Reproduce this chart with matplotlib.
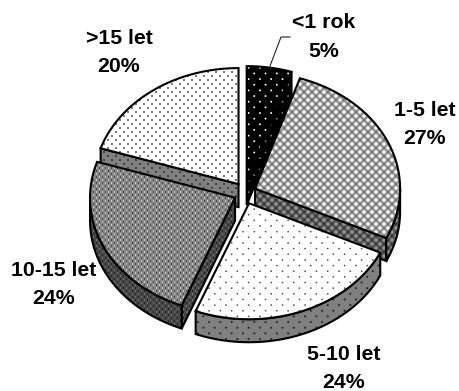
import numpy as np
import matplotlib
matplotlib.use('Agg')
import matplotlib.pyplot as plt
from matplotlib.patches import Polygon

# share of respondents by length of service
categories = ['<1 rok', '1-5 let', '5-10 let', '10-15 let', '>15 let']
shares = [5, 27, 24, 24, 20]

WIDTH, HEIGHT = 459, 391
CENTER = (245, 193)
RX, RY = 145, 116
DEPTH = 23
EXPLODE = 11

# dot layers: (period, radius, x offset, background, dot colour)
top_fill = {
    '<1 rok': [(11.3, 0.9, 0, 0.0, 1.0)],
    '1-5 let': [(8, 1.6, 0, 0.6, 1.0), (8, 0.8, 4, 0.6, 0.3)],
    '5-10 let': [(11.3, 0.8, 0, 1.0, 0.3)],
    '10-15 let': [(6, 0.6, 0.5, 0.52, 0.95), (6, 0.6, 3.5, 0.52, 0.15)],
    '>15 let': [(8, 0.9, 0, 1.0, 0.25)],
}
wall_fill = {
    '<1 rok': [(11.3, 0.9, 0, 0.0, 0.5)],
    '1-5 let': [(8, 1.6, 0, 0.33, 0.6), (8, 0.8, 4, 0.33, 0.1)],
    '5-10 let': [(11.3, 1.0, 0, 0.5, 0.15)],
    '10-15 let': [(6, 0.6, 0.5, 0.28, 0.55), (6, 0.6, 3.5, 0.28, 0.05)],
    '>15 let': [(8, 0.9, 0, 0.5, 0.15)],
}
label_pos = {
    '<1 rok': (324, 23),
    '1-5 let': (425, 110),
    '5-10 let': (344, 354),
    '10-15 let': (54, 270),
    '>15 let': (119, 38),
}
LINE_GAP = 28.5
# back slices first so the front ones overlap them
draw_order = ['<1 rok', '>15 let', '1-5 let', '10-15 let', '5-10 let']


def pattern(layers):
    yy, xx = np.mgrid[0:HEIGHT, 0:WIDTH] + 0.5
    img = np.full((HEIGHT, WIDTH), float(layers[0][3]))
    for period, radius, offset, _, colour in layers:
        cover = np.zeros_like(img)
        # two shifted square lattices make the staggered dot rows
        for sx, sy in [(0, 0), (period / 2, period / 2)]:
            dx = (xx - offset - sx + period / 2) % period - period / 2
            dy = (yy - sy + period / 2) % period - period / 2
            cover = np.maximum(cover, np.clip(radius + 0.5 - np.hypot(dx, dy), 0, 1))
        img = img + (colour - img) * cover
    return img


def rim(cx, cy, angles):
    t = np.radians(angles)
    return np.column_stack([cx + RX * np.sin(t), cy - RY * np.cos(t)])


def fill(ax, points, layers):
    poly = Polygon(points, closed=True, facecolor='none', edgecolor='black',
                   linewidth=1.5, joinstyle='miter', zorder=fill.z + 1)
    ax.add_patch(poly)
    im = ax.imshow(pattern(layers), cmap='gray', vmin=0, vmax=1, extent=(0, WIDTH, HEIGHT, 0),
                   interpolation='nearest', aspect='auto', zorder=fill.z)
    im.set_clip_path(poly)
    fill.z += 2


fill.z = 1

fig = plt.figure(figsize=(WIDTH / 100, HEIGHT / 100), dpi=100)
ax = fig.add_axes([0, 0, 1, 1])

bounds = np.cumsum([0] + shares) / sum(shares) * 360
spans = {c: (bounds[i], bounds[i + 1]) for i, c in enumerate(categories)}

for name in draw_order:
    start, end = spans[name]
    mid = np.radians((start + end) / 2)
    cx = CENTER[0] + EXPLODE * np.sin(mid)
    cy = CENTER[1] - EXPLODE * np.cos(mid)
    apex = np.array([[cx, cy]])
    drop = np.array([0, DEPTH])
    arc = rim(cx, cy, np.linspace(start, end, 80))

    # side faces that turn towards the viewer
    if np.sin(np.radians(end)) > 0:
        face = np.vstack([apex, arc[-1:]])
        fill(ax, np.vstack([face, face[::-1] + drop]), wall_fill[name])
    if np.sin(np.radians(start)) < -1e-6 or start == 0:
        face = np.vstack([apex, arc[:1]])
        fill(ax, np.vstack([face, face[::-1] + drop]), wall_fill[name])
    low, high = max(start, 90), min(end, 270)
    if high > low:
        front = rim(cx, cy, np.linspace(low, high, 80))
        fill(ax, np.vstack([front, front[::-1] + drop]), wall_fill[name])

    fill(ax, np.vstack([apex, arc]), top_fill[name])

# leader line for the smallest slice
ax.plot([270, 281, 290], [66, 37, 37], color='#222222', lw=0.8, zorder=100)

for name, value in zip(categories, shares):
    x, y = label_pos[name]
    for line, text in enumerate([name, f'{value}%']):
        ax.text(x, y + line * LINE_GAP, text, ha='center', va='center', family='Liberation Sans',
                fontweight='bold', fontsize=15.3, color='black', zorder=101)

ax.set_xlim(0, WIDTH)
ax.set_ylim(HEIGHT, 0)
ax.axis('off')
fig.savefig('out.png', dpi=100)
